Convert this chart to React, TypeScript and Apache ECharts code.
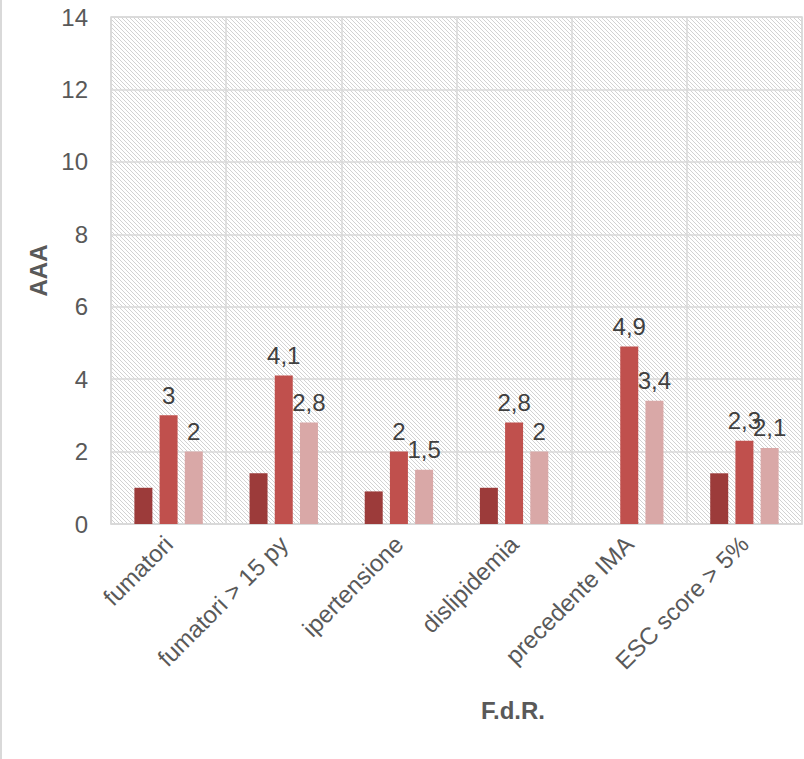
import React, { useEffect, useRef } from "react";
import * as echarts from "echarts";

const categories = [
  "fumatori",
  "fumatori > 15 py",
  "ipertensione",
  "dislipidemia",
  "precedente IMA",
  "ESC score > 5%",
];
const serie1 = [1, 1.4, 0.9, 1, null, 1.4];
const serie2 = [3, 4.1, 2, 2.8, 4.9, 2.3];
const serie3 = [2, 2.8, 1.5, 2, 3.4, 2.1];
const seriesNames = ["Serie 1", "Serie 2", "Serie 3"];
const yTicks = { min: 0, max: 14, interval: 2 };

const FONT = "'Liberation Sans', Arial, sans-serif";
const TEXT = "#595959";
const FS = 24;

function makeHatch(): HTMLCanvasElement {
  const c = document.createElement("canvas");
  const n = 4;
  c.width = n;
  c.height = n;
  const ctx = c.getContext("2d")!;
  ctx.fillStyle = "#ffffff";
  ctx.fillRect(0, 0, n, n);
  ctx.fillStyle = "#d2d2d2";
  for (let i = 0; i < n; i++) ctx.fillRect(i, i, 1, 1);
  return c;
}

export default function App() {
  const ref = useRef<HTMLDivElement>(null);
  useEffect(() => {
    if (!ref.current) return;
    const chart = echarts.init(ref.current, null, { renderer: "svg" });
    const fmt = (p: any) => String(p.value).replace(".", ",");
    const label = {
      show: true,
      position: "top" as const,
      distance: 8,
      fontSize: FS,
      color: "#404040",
      fontFamily: FONT,
      formatter: fmt,
    };
    chart.setOption({
      animation: false,
      backgroundColor: "#ffffff",
      textStyle: { fontFamily: FONT },
      grid: {
        left: 111,
        right: 2,
        top: 17,
        bottom: 235,
        show: true,
        borderColor: "#d9d9d9",
        borderWidth: 1.5,
        backgroundColor: { image: makeHatch(), repeat: "repeat" } as any,
      },
      xAxis: {
        type: "category",
        data: categories,
        axisLine: { show: true, lineStyle: { color: "#d9d9d9", width: 1.5 } },
        axisTick: { show: false },
        splitLine: { show: true, lineStyle: { color: "#d9d9d9", width: 1.5 } },
        axisLabel: {
          rotate: 45,
          fontSize: FS,
          color: TEXT,
          fontFamily: FONT,
          margin: 16,
          interval: 0,
        },
      },
      yAxis: {
        type: "value",
        min: yTicks.min,
        max: yTicks.max,
        interval: yTicks.interval,
        name: "AAA",
        nameLocation: "middle",
        nameGap: 57,
        nameTextStyle: {
          fontSize: FS,
          fontWeight: "bold",
          color: TEXT,
          fontFamily: FONT,
        },
        axisLine: { show: false },
        axisTick: { show: false },
        splitLine: { show: true, lineStyle: { color: "#d9d9d9", width: 1.5 } },
        axisLabel: {
          fontSize: FS,
          color: TEXT,
          fontFamily: FONT,
          margin: 23,
        },
      },
      series: [
        {
          name: seriesNames[0],
          type: "bar",
          data: serie1,
          barWidth: 18,
          barGap: "40%",
          itemStyle: { color: "#9c3b3a" },
        },
        {
          name: seriesNames[1],
          type: "bar",
          data: serie2,
          barWidth: 18,
          barGap: "40%",
          itemStyle: { color: "#c0504d" },
          label,
        },
        {
          name: seriesNames[2],
          type: "bar",
          data: serie3,
          barWidth: 18,
          barGap: "40%",
          itemStyle: { color: "#d9a8a7" },
          label,
        },
      ],
      graphic: [
        {
          type: "line",
          shape: { x1: 1, y1: 0, x2: 1, y2: 759 },
          style: { stroke: "#d9d9d9", lineWidth: 2 },
        },
        {
          type: "text",
          x: 513,
          y: 710,
          style: {
            text: "F.d.R.",
            fontSize: FS,
            fontWeight: "bold",
            fill: TEXT,
            fontFamily: FONT,
            align: "center",
            verticalAlign: "middle",
          },
        },
      ],
    });
    return () => chart.dispose();
  }, []);
  return (
    <div
      ref={ref}
      style={{ width: 804, height: 759, position: "absolute", left: 0, top: 0 }}
    />
  );
}
